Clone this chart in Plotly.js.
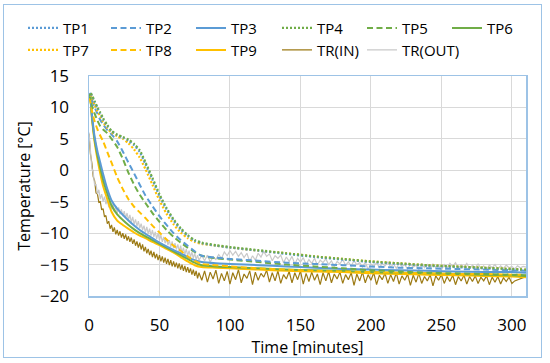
<!DOCTYPE html>
<html>
<head>
<meta charset="utf-8">
<script src="https://cdn.plot.ly/plotly-3.0.1.min.js"></script>
<style>
html,body{margin:0;padding:0;background:#fff;}
#wrap{position:relative;width:550px;height:363px;}
#chart{position:absolute;left:0;top:0;width:550px;height:363px;}
#frame{position:absolute;left:3px;top:4px;width:539px;height:354px;box-sizing:border-box;border:1px solid #9DC3E6;pointer-events:none;}
</style>
</head>
<body>
<div id="wrap"><div id="chart"></div><div id="frame"></div></div>
<script>
// time grid (minutes) for the smooth probe series
const tS = [0,1,2,4,6,8,10,13,16,20,24,28,32,36,40,45,50,55,60,65,70,75,80,90,100,120,140,160,180,200,220,240,260,280,300,310];

const TP1 = [11.9,12.3,11.9,10.9,9.9,9.0,8.1,7.0,6.2,5.6,5.2,4.7,4.0,2.9,1.0,-1.5,-4.1,-6.2,-8.0,-9.4,-10.4,-11.2,-11.6,-12.0,-12.3,-12.8,-13.3,-13.8,-14.2,-14.6,-14.9,-15.2,-15.4,-15.6,-15.8,-15.9];
const TP2 = [11.8,12.2,11.3,10.0,9.0,8.0,7.3,6.4,5.7,4.6,3.0,1.2,-0.5,-2.3,-4.0,-5.7,-7.3,-8.7,-10.0,-11.1,-12.0,-12.9,-13.6,-13.9,-14.1,-14.4,-14.7,-14.9,-15.1,-15.3,-15.5,-15.6,-15.7,-15.8,-15.9,-16.0];
const TP3 = [12.0,11.5,9.0,5.3,3.0,1.2,-0.6,-3.0,-4.8,-6.1,-7.1,-8.0,-8.8,-9.5,-10.1,-10.8,-11.5,-12.1,-12.7,-13.2,-13.8,-14.3,-14.6,-14.8,-14.9,-15.1,-15.3,-15.5,-15.7,-15.8,-15.9,-16.0,-16.1,-16.2,-16.2,-16.3];
const TP4 = [11.8,12.3,12.0,11.0,10.0,9.2,8.3,7.2,6.3,5.7,5.3,4.9,4.2,3.2,1.3,-1.2,-3.8,-6.0,-7.8,-9.2,-10.3,-11.1,-11.5,-11.9,-12.2,-12.7,-13.2,-13.7,-14.1,-14.5,-14.8,-15.1,-15.3,-15.5,-15.7,-15.8];
const TP5 = [11.5,11.8,10.4,9.0,7.9,7.0,6.5,5.9,5.0,3.7,1.8,-0.4,-2.3,-3.9,-5.2,-6.8,-8.2,-9.5,-10.6,-11.5,-12.3,-13.0,-13.6,-14.0,-14.2,-14.6,-15.0,-15.3,-15.6,-15.9,-16.1,-16.3,-16.4,-16.5,-16.6,-16.7];
const TP6 = [12.0,11.3,8.7,4.9,2.4,0.4,-1.5,-3.7,-5.6,-7.0,-7.9,-8.7,-9.4,-10.0,-10.5,-11.1,-11.7,-12.3,-12.9,-13.5,-14.1,-14.7,-15.1,-15.3,-15.4,-15.6,-15.8,-15.9,-16.0,-16.2,-16.3,-16.4,-16.5,-16.6,-16.7,-16.8];
const TP7 = [11.8,12.2,11.6,10.4,9.4,8.6,7.7,6.7,6.0,5.4,5.0,4.3,3.3,2.0,0.2,-2.3,-4.8,-6.9,-8.6,-9.9,-10.8,-11.4,-11.7,-12.0,-12.3,-12.8,-13.2,-13.7,-14.1,-14.5,-14.8,-15.1,-15.3,-15.5,-15.7,-15.8];
const TP8 = [11.5,11.0,9.5,7.8,6.5,5.5,4.6,2.9,1.2,-1.1,-3.0,-4.6,-5.8,-6.7,-7.6,-8.8,-9.9,-11.0,-12.0,-12.8,-13.7,-14.4,-14.9,-15.1,-15.3,-15.6,-15.8,-16.0,-16.1,-16.2,-16.3,-16.4,-16.5,-16.5,-16.6,-16.6];
const TP9 = [12.2,11.5,8.5,4.5,1.8,-0.5,-2.5,-4.6,-6.6,-8.0,-8.7,-9.3,-9.9,-10.4,-10.8,-11.4,-11.9,-12.5,-13.1,-13.8,-14.5,-15.1,-15.4,-15.5,-15.6,-15.8,-16.0,-16.1,-16.2,-16.4,-16.5,-16.6,-16.7,-16.8,-16.9,-17.0];

// time grid (minutes) for the noisy reference-thermometer series
const tN = [0,1,2,3,4,5,6,7,8,9,10,11,12,13,14,15,16,17,18,19,20,21,22,23,24,25,26,27,28,29,30,31,32,33,34,35,36,37,38,39,40,41,42,43,44,45,46,47,48,49,50,51,52,53,54,55,56,57,58,59,60,61,62,63,64,65,66,67,68,69,70,71,72,73,74,75,76,77,78,
80,82,84,86,88,90,92,94,96,98,100,102,104,106,108,110,112,114,116,118,120,122,124,126,128,130,132,134,136,138,140,142,144,146,148,150,152,154,156,158,160,162,164,166,168,170,172,174,176,178,180,182,184,186,188,190,192,194,196,198,200,202,204,206,208,210,212,214,216,218,220,222,224,226,228,230,232,234,236,238,240,242,244,246,248,250,252,254,256,258,260,262,264,266,268,270,272,274,276,278,280,282,284,286,288,290,292,294,296,298,300,302,304,306,308,310];

const TR_IN = [5.8,2.6,1.2,-1.0,-1.7,-3.6,-3.8,-5.1,-5.0,-6.3,-6.1,-7.4,-7.2,-8.5,-8.1,-9.3,-8.7,-9.8,-9.1,-10.2,-9.5,-10.4,-9.7,-10.7,-10.0,-10.9,-10.2,-11.2,-10.5,-11.4,-10.7,-11.7,-11.0,-12.0,-11.3,-12.3,-11.5,-12.6,-11.8,-12.9,-12.2,-13.2,-12.5,-13.5,-12.8,-13.8,-13.0,-14.0,-13.3,-14.3,-13.5,-14.5,-13.7,-14.7,-13.9,-14.9,-14.1,-15.1,-14.3,-15.3,-14.5,-15.4,-14.7,-15.6,-14.8,-15.8,-15.0,-16.0,-15.2,-16.2,-15.4,-16.3,-15.6,-16.6,-15.8,-16.8,-16.0,-17.2,-16.3,
-17.5,-16.0,-17.8,-16.2,-17.3,-15.9,-18.0,-16.4,-17.6,-16.1,-18.1,-16.3,-17.4,-15.8,-17.9,-16.5,-17.2,-16.0,-18.2,-16.2,-17.5,-16.4,-17.0,-15.9,-17.8,-16.3,-17.6,-16.0,-18.0,-16.6,-17.3,-16.1,-17.9,-16.3,-17.4,-16.0,-18.1,-16.4,-17.7,-16.2,-17.5,-16.5,-18.2,-16.3,-17.6,-16.1,-17.9,-16.5,-17.3,-16.2,-18.0,-16.6,-17.4,-16.3,-18.3,-16.5,-17.6,-16.2,-17.9,-16.6,-17.5,-16.3,-18.2,-16.7,-17.4,-16.4,-18.0,-16.6,-17.7,-16.3,-18.1,-16.8,-17.5,-16.5,-18.3,-16.7,-17.8,-16.4,-18.0,-16.9,-17.6,-16.6,-18.4,-16.8,-17.5,-16.6,-18.0,-16.9,-17.7,-16.7,-18.2,-16.9,-17.6,-16.7,-18.1,-16.9,-17.7,-16.8,-18.0,-17.0,-17.6,-16.8,-18.2,-17.0,-17.8,-16.9,-18.1,-17.1,-17.7,-17.0,-18.0,-17.6,-17.4,-17.2,-17.1,-16.9];

const TR_OUT = [6.0,3.6,0.4,-0.4,-2.4,-2.2,-3.8,-3.1,-4.6,-3.8,-5.0,-4.2,-5.4,-4.6,-5.9,-5.0,-6.2,-5.3,-6.6,-5.7,-6.8,-5.9,-7.0,-6.2,-7.3,-6.5,-7.6,-6.8,-7.9,-7.1,-8.3,-7.4,-8.6,-7.8,-8.9,-8.1,-9.2,-8.5,-9.5,-8.8,-9.9,-9.0,-10.1,-9.3,-10.4,-9.5,-10.6,-9.8,-10.9,-10.0,-11.1,-10.3,-11.4,-10.6,-11.6,-10.9,-11.9,-11.1,-12.2,-11.3,-12.4,-11.6,-12.6,-11.8,-12.9,-12.0,-13.1,-12.3,-13.4,-12.5,-13.6,-12.8,-13.8,-13.0,-14.0,-13.2,-14.2,-13.5,-14.3,
-13.6,-14.4,-13.5,-14.6,-13.8,-14.2,-13.4,-14.0,-13.0,-13.6,-12.8,-13.5,-12.9,-13.7,-13.1,-13.9,-13.2,-14.5,-13.6,-14.3,-13.2,-13.8,-12.9,-13.7,-13.3,-14.4,-13.6,-14.0,-13.5,-14.7,-13.8,-14.5,-13.7,-14.9,-14.0,-14.6,-13.9,-15.0,-14.2,-14.8,-14.0,-15.1,-14.3,-14.7,-14.1,-15.0,-14.4,-15.3,-14.5,-14.9,-14.2,-15.1,-14.6,-15.2,-14.4,-15.0,-14.7,-15.4,-14.6,-15.8,-14.9,-15.3,-14.7,-15.5,-14.8,-15.2,-14.6,-15.4,-14.9,-15.6,-14.8,-15.3,-15.0,-15.7,-14.9,-15.4,-15.1,-15.8,-14.8,-15.5,-15.0,-15.6,-14.9,-15.4,-15.1,-15.9,-15.0,-15.5,-14.8,-15.3,-14.7,-15.6,-15.0,-15.4,-14.8,-15.7,-15.1,-15.5,-14.9,-15.6,-15.2,-15.8,-15.1,-15.5,-15.0,-15.7,-15.2,-15.6,-15.1,-15.5,-15.3,-15.7,-15.2,-15.5,-15.3,-15.4];

const names = ['TP1','TP2','TP3','TP4','TP5','TP6','TP7','TP8','TP9','TR(IN)','TR(OUT)'];

const BLUE = '#5B9BD5', GREEN = '#70AD47', GOLD = '#FFC000', BROWN = '#9C7A14', GREY = '#C9C9C9';
const DOT = '2px,2px', DASH = '6px,3.5px';

// chart geometry (pixels) used to place one single-item legend per entry
const PL = 89, PW = 437, PB = 296, PH = 230;
const legTextX = [63,146,231,317,402,487,63,146,231,317,402];
const legRowY = [16,16,16,16,16,16,39,39,39,39,39];

function line(idx, x, y, color, dash, width, shape) {
  return {type:'scatter', mode:'lines', name:names[idx], x:x, y:y,
    legend: idx === 0 ? 'legend' : 'legend' + (idx + 1),
    line:{color:color, dash:dash, width:width, shape:shape || 'spline', smoothing:0.6}};
}
const traces = [
  line(9, tN, TR_IN, BROWN, 'solid', 1.2, 'linear'),
  line(10, tN, TR_OUT, GREY, 'solid', 1.2, 'linear'),
  line(8, tS, TP9, GOLD, 'solid', 2),
  line(5, tS, TP6, GREEN, 'solid', 2),
  line(2, tS, TP3, BLUE, 'solid', 2),
  line(7, tS, TP8, GOLD, DASH, 2),
  line(4, tS, TP5, GREEN, DASH, 2),
  line(1, tS, TP2, BLUE, DASH, 2),
  line(6, tS, TP7, GOLD, DOT, 2.2),
  line(0, tS, TP1, BLUE, DOT, 2.2),
  line(3, tS, TP4, GREEN, DOT, 2.2)
];

const FONT = '"Open Sans", "Noto Sans", sans-serif';
const layout = {
  width:550, height:363,
  margin:{l:89, r:24, t:66, b:67},
  paper_bgcolor:'#fff', plot_bgcolor:'#fff',
  font:{family:FONT, size:16, color:'#000'},
  showlegend:true,
  xaxis:{range:[0,310], dtick:50, tick0:0, showgrid:true, gridcolor:'#D9D9D9', gridwidth:1,
    zeroline:false, showline:true, mirror:true, linecolor:'#9DC3E6', linewidth:1.5,
    ticks:'outside', ticklen:13, tickcolor:'rgba(0,0,0,0)',
    tickfont:{family:FONT, size:17},
    title:{text:'Time [minutes]', font:{family:FONT, size:16}, standoff:1}},
  yaxis:{range:[-20,15], dtick:5, tick0:0, showgrid:true, gridcolor:'#D9D9D9', gridwidth:1,
    zeroline:false, showline:true, mirror:true, linecolor:'#9DC3E6', linewidth:1.5,
    ticks:'outside', ticklen:15, tickcolor:'rgba(0,0,0,0)',
    tickfont:{family:FONT, size:17},
    title:{text:'Temperature [°C]', font:{family:FONT, size:16}, standoff:5}}
};
names.forEach((n, i) => {
  const key = i === 0 ? 'legend' : 'legend' + (i + 1);
  layout[key] = {
    x:(legTextX[i] - 40 - PL) / PW, xanchor:'left',
    y:(PB - legRowY[i]) / PH, yanchor:'middle',
    orientation:'h', itemwidth:30, bgcolor:'rgba(0,0,0,0)', borderwidth:0,
    font:{family:FONT, size:15, color:'#000'}
  };
});
Plotly.newPlot('chart', traces, layout, {displayModeBar:false, staticPlot:true});
</script>
</body>
</html>
